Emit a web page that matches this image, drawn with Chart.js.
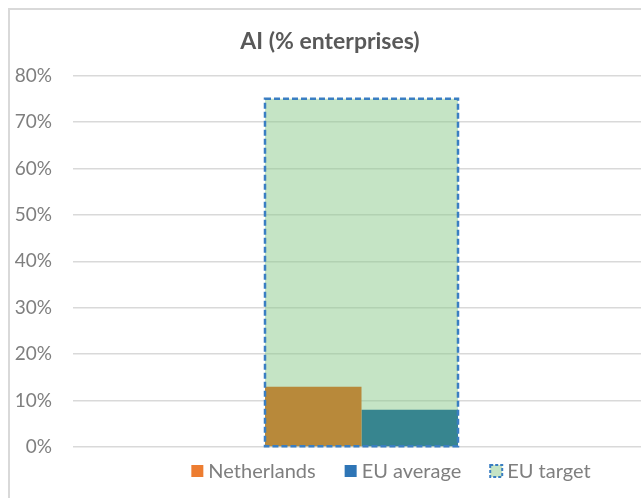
<!DOCTYPE html>
<html>
<head>
<meta charset="utf-8">
<script src="https://cdn.jsdelivr.net/npm/chart.js@4"></script>
<style>
    body { margin: 0; overflow: hidden; background: #fff; }
    #marco {
        position: absolute; left: 8px; top: 8px;
        width: 700px; height: 520px;
        border-left: 2px solid #d9d9d9; border-top: 2px solid #d9d9d9;
    }
    #marco canvas { position: absolute; left: 0; top: 0; }
</style>
</head>
<body>
<div id="marco"><canvas id="chartAI" width="640" height="488"></canvas></div>
<script>
// Datos del grafico
const categorias = [''];
const series = ['Netherlands', 'EU average', 'EU target'];
const valoresPaises = [13];
const valoresMedia = [8];
const valoresObjetivo = [75];
const ticksY = [0, 10, 20, 30, 40, 50, 60, 70, 80];

const FUENTE = "Lato, 'Open Sans', sans-serif";
const colorBarra = ['#b8893a', '#37858f', 'rgba(139, 201, 139, 0.5)'];
const colorLeyenda = ['#ed7d31', '#2e75b6', '#c5e4c5'];
const azulBorde = '#3a7ec2';

// borde punteado de la barra objetivo (Chart.js no tiene borderDash en barras)
const bordePunteado = {
    id: 'bordePunteado',
    afterDatasetsDraw(chart) {
        const meta = chart.getDatasetMeta(2);
        const ctx = chart.ctx;
        ctx.save();
        ctx.strokeStyle = azulBorde;
        ctx.lineWidth = 2.5;
        ctx.setLineDash([6, 3]);
        meta.data.forEach(el => {
            const p = el.getProps(['x', 'y', 'base', 'width'], true);
            ctx.strokeRect(p.x - p.width / 2, p.y, p.width, p.base - p.y);
        });
        ctx.restore();
    }
};

// leyenda estilo Excel
const leyenda = {
    id: 'leyenda',
    afterDraw(chart) {
        const ctx = chart.ctx;
        const caja = 12, hueco = 5, sep = 29;
        ctx.save();
        ctx.font = '20px ' + FUENTE;
        ctx.textBaseline = 'middle';
        let total = 0;
        series.forEach((s, i) => {
            total += caja + hueco + ctx.measureText(s).width;
            if (i < series.length - 1) total += sep;
        });
        let x = 381 - total / 2;
        const y = 461;
        series.forEach((s, i) => {
            ctx.fillStyle = colorLeyenda[i];
            ctx.fillRect(x, y - caja / 2, caja, caja);
            if (i === 2) {
                ctx.strokeStyle = azulBorde;
                ctx.lineWidth = 2;
                ctx.setLineDash([3, 2]);
                ctx.strokeRect(x, y - caja / 2, caja, caja);
                ctx.setLineDash([]);
            }
            x += caja + hueco;
            ctx.fillStyle = '#7f7f7f';
            ctx.textAlign = 'left';
            ctx.fillText(s, x, y + 1);
            x += ctx.measureText(s).width + sep;
        });
        ctx.restore();
    }
};

const barraAncho = 0.3345;

new Chart(document.getElementById('chartAI'), {
    type: 'bar',
    data: {
        labels: categorias,
        datasets: [{
            label: series[0],
            data: valoresPaises,
            backgroundColor: colorBarra[0],
            categoryPercentage: barraAncho,
            barPercentage: 1
        }, {
            label: series[1],
            data: valoresMedia,
            backgroundColor: colorBarra[1],
            categoryPercentage: barraAncho,
            barPercentage: 1
        }, {
            label: series[2],
            data: valoresObjetivo,
            backgroundColor: colorBarra[2],
            categoryPercentage: barraAncho,
            barPercentage: 1,
            grouped: false   // va detras, centrada en la categoria
        }]
    },
    options: {
        responsive: false,
        animation: false,
        layout: { padding: { left: 0, right: 0, top: 0, bottom: 51 } },
        plugins: {
            legend: { display: false },
            tooltip: { enabled: false },
            title: {
                display: true,
                text: 'AI (% enterprises)',
                color: '#595959',
                font: { family: FUENTE, size: 23, weight: 'bold' },
                padding: { top: 18, bottom: 20 }
            }
        },
        scales: {
            x: { display: false },
            y: {
                min: 0,
                max: 80,
                afterFit: s => { s.width = 63; },
                afterBuildTicks: s => { s.ticks = ticksY.map(v => ({ value: v })); },
                border: { display: false },
                grid: { color: '#d9d9d9', lineWidth: 1.5, drawTicks: false },
                ticks: {
                    padding: 21,
                    color: '#7f7f7f',
                    font: { family: FUENTE, size: 19 },
                    callback: v => v + '%'
                }
            }
        }
    },
    plugins: [bordePunteado, leyenda]
});
</script>
</body>
</html>
